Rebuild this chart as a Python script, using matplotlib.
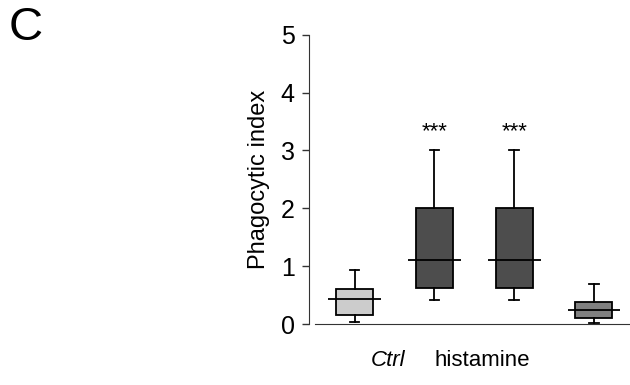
import matplotlib
matplotlib.use('Agg')
import matplotlib.pyplot as plt

plt.rcParams['font.family'] = ['Liberation Sans', 'DejaVu Sans']

# valores (min, q1, mediana, q3, max)
grupos = ["g1", "g2", "g3", "g4"]
minimos = [0.04, 0.41, 0.41, 0.02]
q1 = [0.15, 0.63, 0.63, 0.11]
medianas = [0.43, 1.10, 1.10, 0.24]
q3 = [0.60, 2.00, 2.00, 0.39]
maximos = [0.93, 3.00, 3.00, 0.69]
colores = ["#cccccc", "#4d4d4d", "#4d4d4d", "#808080"]
signif = ["", "***", "***", ""]
yticks = [0, 1, 2, 3, 4, 5]

fig = plt.figure(figsize=(6.3, 3.85), dpi=100)
ax = fig.add_axes([0.490, 0.158, 0.510, 0.752])

stats = []
for i, g in enumerate(grupos):
    stats.append(dict(label=g, whislo=minimos[i], q1=q1[i], med=medianas[i],
                      q3=q3[i], whishi=maximos[i], fliers=[]))

posiciones = list(range(1, len(grupos) + 1))
bp = ax.bxp(stats, positions=posiciones, widths=0.465, patch_artist=True,
            showfliers=False,
            boxprops=dict(linewidth=1.3, edgecolor="black"),
            whiskerprops=dict(linewidth=1.3, color="black"),
            capprops=dict(linewidth=1.3, color="black"),
            medianprops=dict(linewidth=1.3, color="black"),
            capwidths=0.12)
for caja, c in zip(bp["boxes"], colores):
    caja.set_facecolor(c)

# medianas mas anchas que la caja
for linea, x in zip(bp["medians"], posiciones):
    linea.set_xdata([x - 0.33, x + 0.33])

for x, s, top in zip(posiciones, signif, maximos):
    if s:
        ax.text(x, top + 0.33, s, ha="center", va="center", fontsize=16)

ax.set_xlim(0.423, 4.452)
ax.set_ylim(0, 5)
ax.set_yticks(yticks)
ax.tick_params(axis="y", labelsize=18, length=5, width=1, pad=5,
               color="#333333")
ax.set_xticks([])
for lado in ["left", "bottom"]:
    ax.spines[lado].set_color("#333333")
ax.spines["top"].set_visible(False)
ax.spines["right"].set_visible(False)
ax.spines["bottom"].set_bounds(0.5, 4.452)
ax.set_ylabel("Phagocytic index", fontsize=17, labelpad=8)

fig.text(388 / 630, 1 - 360 / 385, "Ctrl", style="italic", fontsize=16,
         ha="center", va="center")
fig.text(482 / 630, 1 - 360 / 385, "histamine", fontsize=16,
         ha="center", va="center")
fig.text(26 / 630, 1 - 28 / 385, "C", fontsize=34, ha="center", va="center")

fig.savefig("out.png", dpi=100)
